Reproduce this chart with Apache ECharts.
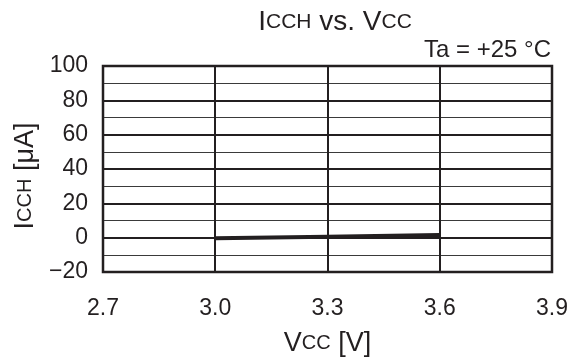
<!DOCTYPE html>
<html>
<head>
<meta charset="utf-8">
<script src="https://cdn.jsdelivr.net/npm/echarts@6/dist/echarts.min.js"></script>
<style>
  html, body { margin: 0; padding: 0; background: #fff; }
  #chart { width: 571px; height: 362px; }
</style>
</head>
<body>
<div id="chart"></div>
<script>
// Vcc [V] vs ICCH [uA], Ta = +25 C
const vccValues = [3.0, 3.3, 3.6];
const icchValues = [-0.3, 0.6, 1.5];
const xTicks = [2.7, 3.0, 3.3, 3.6, 3.9];
const yTicks = [-20, 0, 20, 40, 60, 80, 100];

const ink = '#231f20';
const font = 'Liberation Sans, Arial, sans-serif';

const chart = echarts.init(document.getElementById('chart'), null, { renderer: 'canvas' });

const option = {
  backgroundColor: '#fff',
  animation: false,
  textStyle: { fontFamily: font },
  grid: {
    left: 103,
    right: 19,
    top: 66,
    bottom: 88,
    show: true,
    borderColor: ink,
    borderWidth: 2.5,
  },
  xAxis: {
    type: 'value',
    min: xTicks[0],
    max: xTicks[xTicks.length - 1],
    interval: 0.3,
    axisLine: { show: false },
    axisTick: { show: false },
    axisLabel: {
      color: ink,
      fontSize: 23,
      fontFamily: font,
      margin: 25,
      formatter: (v) => v.toFixed(1),
    },
    splitLine: { show: true, lineStyle: { color: ink, width: 2 } },
    name: '{a|V}{b|CC} [V]',
    nameLocation: 'middle',
    nameGap: 58,
    nameTextStyle: {
      color: ink,
      fontFamily: font,
      rich: {
        a: { fontSize: 27, color: ink, fontFamily: font },
        b: { fontSize: 20, color: ink, fontFamily: font },
      },
      fontSize: 27,
    },
  },
  yAxis: {
    type: 'value',
    min: yTicks[0],
    max: yTicks[yTicks.length - 1],
    interval: 20,
    axisLine: { show: false },
    axisTick: { show: false },
    axisLabel: {
      color: ink,
      fontSize: 23,
      fontFamily: font,
      margin: 15,
      padding: [4, 0, 0, 0],
      formatter: (v) => (v < 0 ? '\u2212' + Math.abs(v) : String(v)),
    },
    splitLine: { show: true, lineStyle: { color: ink, width: 2 } },
    minorTick: { show: false, splitNumber: 2 },
    minorSplitLine: { show: true, lineStyle: { color: '#3a3a3a', width: 1.2 } },
  },
  graphic: [
    {
      type: 'text',
      x: 335,
      y: 8,
      style: {
        text: '{a|I}{b|CCH}{a| vs. V}{b|CC}',
        align: 'center',
        verticalAlign: 'top',
        rich: {
          a: { fontSize: 28, fill: ink, fontFamily: font },
          b: { fontSize: 21, fill: ink, fontFamily: font },
        },
      },
    },
    {
      type: 'text',
      x: 551,
      y: 38,
      style: {
        text: 'Ta = +25 \u00b0C',
        align: 'right',
        verticalAlign: 'top',
        fontSize: 24,
        fontFamily: font,
        fill: ink,
      },
    },
    {
      type: 'text',
      x: 12,
      y: 176,
      rotation: Math.PI / 2,
      style: {
        text: '{a|I}{b|CCH}{a| [\u03bcA]}',
        align: 'center',
        verticalAlign: 'top',
        rich: {
          a: { fontSize: 27, fill: ink, fontFamily: font },
          b: { fontSize: 20, fill: ink, fontFamily: font },
        },
      },
    },
  ],
  series: [
    {
      type: 'line',
      data: vccValues.map((v, i) => [v, icchValues[i]]),
      symbol: 'none',
      lineStyle: { color: ink, width: 4 },
    },
  ],
};

chart.setOption(option);
</script>
</body>
</html>
